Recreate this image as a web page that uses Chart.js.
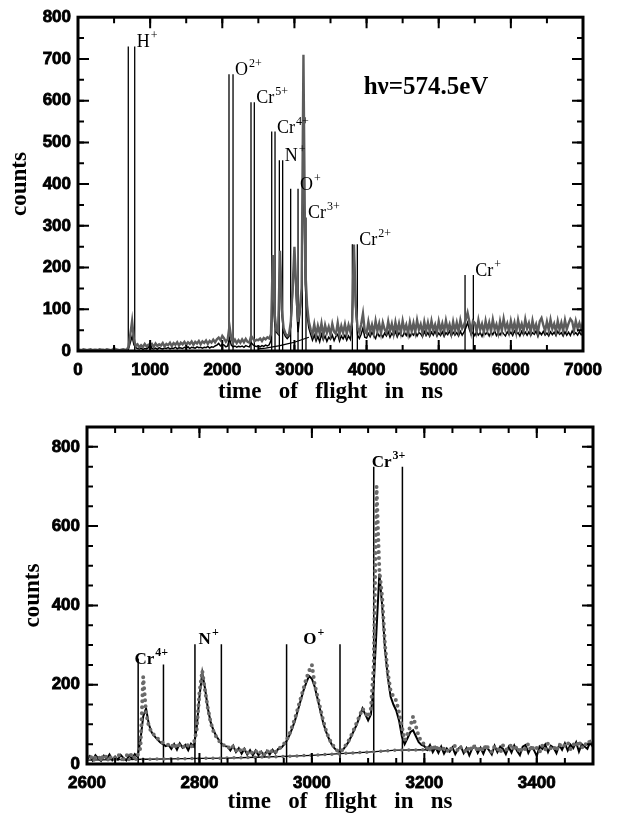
<!DOCTYPE html>
<html>
<head>
<meta charset="utf-8">
<script src="https://cdn.jsdelivr.net/npm/chart.js@4.4.0/dist/chart.umd.min.js"></script>
<style>
  html, body { margin: 0; padding: 0; background: #fff; }
  #wrap { position: relative; width: 620px; height: 816px; }
  canvas { position: absolute; left: 0; }
</style>
</head>
<body>
<div id="wrap">
  <canvas id="tofFull" width="620" height="408" style="top:0"></canvas>
  <canvas id="tofZoom" width="620" height="408" style="top:408px"></canvas>
</div>
<script>
// ---- full spectrum, 0..7000 ns, one sample every 25 ns ----
const fullStep = 25;
const fullGrey = [
  2,3,2,4,3,2,3,4,2,3,
  3,2,4,3,3,2,4,3,2,3,
  3,4,3,2,3,4,3,3,10,40,
  72,28,12,16,9,14,10,17,11,15,
  12,17,10,18,12,16,13,19,11,17,
  14,20,12,19,15,21,13,20,16,22,
  15,21,17,23,15,22,18,24,16,23,
  19,25,17,24,20,27,21,28,32,26,
  36,30,22,28,60,30,20,27,19,26,
  20,28,21,29,22,20,36,30,24,27,
  26,30,24,31,28,33,30,40,230,90,
  50,45,240,100,55,42,36,40,70,150,
  250,150,70,100,150,710,200,110,70,52,
  40,64,38,60,42,66,37,62,44,58,
  39,65,46,41,68,40,60,44,64,42,
  62,46,70,255,110,55,44,64,90,48,
  42,70,46,63,43,72,48,66,42,68,
  52,44,71,48,65,42,69,46,66,44,
  72,49,63,42,69,47,67,45,74,51,
  64,43,70,48,68,46,72,50,63,44,
  71,49,66,46,73,51,64,43,70,48,
  68,47,74,54,62,75,92,70,45,72,
  67,46,74,51,65,45,72,50,68,47,
  75,52,64,44,71,49,77,53,66,46,
  72,51,68,45,74,52,65,47,76,54,
  67,46,73,51,64,44,71,79,62,48,
  70,50,75,53,65,46,72,51,68,48,
  74,52,66,77,71,49,72,54,67,51,
  70
];
const fullBlack = [
  0,1,0,2,1,0,1,0,2,1,
  0,1,2,0,1,1,0,2,1,0,
  10,1,0,2,1,0,1,2,5,20,
  35,15,8,6,5,7,4,6,5,8,
  20,6,5,7,4,8,6,5,7,6,
  8,5,7,6,9,5,8,7,6,9,
  7,10,6,9,8,7,10,8,9,7,
  9,8,11,7,10,9,12,14,18,12,
  16,14,10,12,30,14,10,12,9,11,
  10,12,9,13,11,10,20,15,12,11,
  12,10,13,11,14,12,15,25,140,70,
  45,40,230,90,45,35,30,35,60,140,
  225,130,45,90,140,480,160,85,55,40,
  26,38,24,35,22,40,27,36,23,33,
  28,38,25,35,40,24,36,29,38,26,
  36,28,60,245,100,38,30,40,55,33,
  31,42,34,45,36,30,44,35,41,33,
  43,36,46,33,42,37,47,34,44,38,
  35,45,37,48,34,43,38,46,36,44,
  41,34,47,37,44,35,45,38,48,36,
  43,37,46,35,44,39,48,36,45,38,
  44,36,47,38,45,55,68,52,39,45,
  37,46,38,44,35,47,40,45,36,46,
  39,48,37,44,38,47,41,36,46,39,
  45,37,48,40,44,36,47,39,45,38,
  46,37,44,40,48,35,45,39,47,38,
  43,36,46,39,45,37,47,40,44,36,
  46,38,45,37,48,40,44,38,46,39,
  44
];
const fullBgTimes = [2500, 2600, 2700, 2800, 2900, 3000, 3100, 3200];
const fullBgCounts = [5, 7, 10, 13, 17, 21, 27, 33];

// time windows of each ion (pairs of gate lines) and their drawn heights
const fullGateTimes   = [697, 786, 2093, 2149, 2398, 2444, 2685, 2731, 2791, 2837, 2948, 3050, 3110, 3160, 3803, 3872, 5365, 5480];
const fullGateHeights = [730, 730, 663, 663, 596, 596, 526, 526, 457, 457, 389, 389, 320, 320, 256, 256, 182, 182];
const fullIons    = ['H', 'O', 'Cr', 'Cr', 'N', 'O', 'Cr', 'Cr', 'Cr'];
const fullCharges = ['+', '2+', '5+', '4+', '+', '+', '3+', '2+', '+'];

// ---- zoom 2600..3500 ns, one sample every 5 ns ----
const zoomStart = 2600;
const zoomStep = 5;
const zoomGrey = [
  18,12,22,15,20,10,24,16,13,21,
  15,24,18,12,23,17,26,14,22,40,
  220,130,95,80,72,65,58,54,50,48,
  42,52,40,50,45,40,49,42,52,85,
  180,235,185,140,105,82,68,58,50,46,
  46,37,44,33,40,30,37,27,34,26,
  33,25,32,24,34,26,35,29,39,42,
  50,60,75,95,115,140,165,190,215,235,
  250,200,170,140,110,85,66,52,42,34,
  30,36,47,58,72,88,105,122,140,130,
  118,140,250,700,490,420,300,230,185,170,
  160,130,95,60,75,95,120,95,70,55,
  50,40,46,35,48,33,44,38,30,42,
  36,47,32,42,38,29,45,35,48,31,
  44,33,49,37,30,45,40,28,47,36,
  38,50,34,45,29,43,37,51,33,46,
  40,30,47,36,52,39,45,33,50,42,
  48,55,38,50,44,58,40,52,47,60,
  50
];
const zoomBlack = [
  12,20,9,22,14,8,21,13,24,10,
  19,11,23,15,9,22,13,25,18,60,
  120,140,100,80,70,62,55,50,45,48,
  38,50,36,52,41,48,35,51,44,90,
  170,230,190,140,105,85,70,60,50,45,
  44,34,46,30,40,26,38,24,35,22,
  34,22,31,20,33,24,36,27,38,40,
  48,58,72,90,110,135,160,185,205,222,
  215,195,165,135,105,82,65,50,40,33,
  30,35,45,55,70,85,100,120,140,125,
  110,125,200,340,480,400,290,220,170,150,
  135,110,70,50,65,80,85,70,55,48,
  45,36,48,30,42,28,44,26,39,31,
  42,25,38,44,27,40,22,39,45,28,
  41,26,43,35,24,46,30,44,38,25,
  43,29,47,33,22,44,48,28,42,35,
  20,44,38,49,30,46,41,27,48,36,
  52,34,49,40,55,31,50,44,38,56,
  42
];
const zoomBgTimes  = [2600, 2650, 2700, 2750, 2800, 2850, 2900, 2950, 3000, 3050, 3100, 3150, 3210];
const zoomBgCounts = [10, 11, 12, 13, 14, 15, 17, 19, 22, 26, 30, 35, 36];

const zoomGateTimes   = [2691, 2736, 2792, 2839, 2955, 3050, 3110, 3161];
const zoomGateHeights = [266, 251, 302, 302, 302, 302, 750, 750];
const zoomIons    = ['Cr', 'N', 'O', 'Cr'];
const zoomCharges = ['4+', '+', '+', '3+'];

// helpers
function sampled(start, step, values) {
  return values.map((v, i) => ({ x: start + i * step, y: v }));
}
function paired(times, values) {
  return values.map((v, i) => ({ x: times[i], y: v }));
}
function gates(times, heights) {
  const pts = [];
  times.forEach((t, i) => {
    pts.push({ x: t, y: 0 }, { x: t, y: heights[i] }, { x: t, y: null });
  });
  return pts;
}
// labelled ticks only on multiples of the major step
function majorTicks(step) {
  return s => {
    const out = [];
    for (let v = Math.ceil(s.min / step) * step; v <= s.max + 1e-6; v += step) out.push({ value: v });
    s.ticks = out;
  };
}

// inward major/minor ticks on all four sides plus the heavy frame
const frameTicks = {
  id: 'frameTicks',
  afterDatasetsDraw(chart, args, opts) {
    const { ctx, chartArea: a, scales: { x, y } } = chart;
    ctx.save();
    ctx.strokeStyle = '#000';
    ctx.lineWidth = 2;
    const along = (scale, step, len, horizontal) => {
      const first = Math.ceil(scale.min / step) * step;
      for (let v = first; v <= scale.max + 1e-6; v += step) {
        const p = scale.getPixelForValue(v);
        ctx.beginPath();
        if (horizontal) {
          if (p <= a.left + 1 || p >= a.right - 1) continue;
          ctx.moveTo(p, a.bottom); ctx.lineTo(p, a.bottom - len);
          ctx.moveTo(p, a.top); ctx.lineTo(p, a.top + len);
        } else {
          if (p <= a.top + 1 || p >= a.bottom - 1) continue;
          ctx.moveTo(a.left, p); ctx.lineTo(a.left + len, p);
          ctx.moveTo(a.right, p); ctx.lineTo(a.right - len, p);
        }
        ctx.stroke();
      }
    };
    along(x, opts.xMinor, 6, true);
    along(x, opts.xMajor, 11, true);
    along(y, opts.yMinor, 6, false);
    along(y, opts.yMajor, 11, false);
    ctx.lineWidth = 3;
    ctx.strokeRect(a.left, a.top, a.width, a.height);
    ctx.restore();
  }
};

// ion names with superscript charges next to their gate lines
const ionLabels = {
  id: 'ionLabels',
  afterDatasetsDraw(chart, args, opts) {
    const { ctx, scales: { x, y } } = chart;
    ctx.save();
    ctx.fillStyle = '#000';
    ctx.textBaseline = 'alphabetic';
    const base = opts.weight + ' ' + opts.size + 'px "Liberation Serif"';
    const sup = opts.weight + ' ' + opts.supSize + 'px "Liberation Serif"';
    opts.names.forEach((name, i) => {
      const t1 = opts.times[2 * i], t2 = opts.times[2 * i + 1];
      const h = opts.heights[2 * i + 1];
      ctx.font = base;
      const w1 = ctx.measureText(name).width;
      ctx.font = sup;
      const w2 = ctx.measureText(opts.charges[i]).width;
      let left;
      if (opts.mode === 'center') {
        left = (x.getPixelForValue(t1) + x.getPixelForValue(t2)) / 2 - (w1 + w2) / 2;
      } else {
        left = x.getPixelForValue(t2) + 2;
      }
      const yb = y.getPixelForValue(h) + opts.drop;
      ctx.font = base;
      ctx.fillText(name, left, yb);
      ctx.font = sup;
      ctx.fillText(opts.charges[i], left + w1 + 1, yb - opts.raise);
    });
    if (opts.note) {
      ctx.font = 'bold 25px "Liberation Serif"';
      ctx.fillText(opts.note.text, x.getPixelForValue(opts.note.x), y.getPixelForValue(opts.note.y));
    }
    ctx.restore();
  }
};

const tickFont = { family: 'Liberation Sans', weight: 'bold', size: 17 };
const titleFont = { family: 'Liberation Serif', weight: 'bold', size: 23 };

function makeChart(id, cfg) {
  return new Chart(document.getElementById(id), {
    type: 'line',
    data: { datasets: cfg.datasets },
    options: {
      responsive: false,
      animation: false,
      devicePixelRatio: 1,
      layout: { padding: { top: cfg.padTop, right: cfg.padRight, left: 0, bottom: 0 } },
      elements: { point: { radius: 0 }, line: { tension: 0 } },
      plugins: {
        legend: { display: false },
        tooltip: { enabled: false },
        frameTicks: cfg.ticks,
        ionLabels: cfg.labels
      },
      scales: {
        x: {
          type: 'linear',
          min: cfg.xMin, max: cfg.xMax,
          afterFit: s => { s.height = cfg.xHeight; },
          afterBuildTicks: majorTicks(cfg.ticks.xMajor),
          grid: { display: false, drawTicks: false },
          border: { display: false },
          ticks: { font: tickFont, color: '#000', padding: 9, maxRotation: 0,
                   autoSkip: false, textStrokeColor: '#000', textStrokeWidth: 0.8, callback: v => String(v) },
          title: { display: true, text: 'time   of   flight   in   ns', font: titleFont, color: '#000', padding: { top: 0, bottom: cfg.xTitlePad } }
        },
        y: {
          min: 0, max: cfg.yMax,
          afterFit: s => { s.width = cfg.yWidth; },
          afterBuildTicks: majorTicks(cfg.ticks.yMajor),
          grid: { display: false, drawTicks: false },
          border: { display: false },
          ticks: { font: tickFont, color: '#000', padding: 7,
                   autoSkip: false, textStrokeColor: '#000', textStrokeWidth: 0.8, callback: v => String(v) },
          title: { display: true, text: 'counts', font: titleFont, color: '#000', padding: { top: cfg.yTitlePad, bottom: 0 } }
        }
      }
    },
    plugins: [frameTicks, ionLabels]
  });
}

makeChart('tofFull', {
  xMin: 0, xMax: 7000, yMax: 800,
  padTop: 14, padRight: 37, xHeight: 57, yWidth: 78, xTitlePad: 2, yTitlePad: 6,
  ticks: { xMajor: 1000, xMinor: 500, yMajor: 100, yMinor: 50 },
  labels: {
    names: fullIons, charges: fullCharges, times: fullGateTimes, heights: fullGateHeights,
    mode: 'after', weight: 'normal', size: 18, supSize: 12, raise: 8, drop: 1,
    note: { text: 'h\u03bd=574.5eV', x: 3960, y: 615 }
  },
  datasets: [
    { data: sampled(0, fullStep, fullGrey), borderColor: '#5c5c5c', borderWidth: 2.4, order: 0 },
    { data: sampled(0, fullStep, fullBlack), borderColor: '#000', borderWidth: 1.5, order: 1 },
    { data: paired(fullBgTimes, fullBgCounts), borderColor: '#000', borderWidth: 1.2, order: 2 },
    { data: gates(fullGateTimes, fullGateHeights), borderColor: '#000', borderWidth: 1.3, spanGaps: false, order: 3 }
  ]
});

makeChart('tofZoom', {
  xMin: 2600, xMax: 3500, yMax: 850,
  padTop: 19, padRight: 27, xHeight: 52, yWidth: 87, xTitlePad: 0, yTitlePad: 19,
  ticks: { xMajor: 200, xMinor: 50, yMajor: 200, yMinor: 50 },
  labels: {
    names: zoomIons, charges: zoomCharges, times: zoomGateTimes, heights: zoomGateHeights,
    mode: 'center', weight: 'bold', size: 17, supSize: 12, raise: 8, drop: 0
  },
  datasets: [
    { data: sampled(zoomStart, zoomStep, zoomGrey), borderColor: '#6a6a6a', borderWidth: 4,
      borderDash: [0, 6], borderCapStyle: 'round', order: 0 },
    { data: paired(zoomBgTimes, zoomBgCounts), borderColor: '#6a6a6a', borderWidth: 3.5,
      borderDash: [0, 7], borderCapStyle: 'round', order: 1 },
    { data: sampled(zoomStart, zoomStep, zoomBlack), borderColor: '#000', borderWidth: 2, order: 2 },
    { data: paired(zoomBgTimes, zoomBgCounts), borderColor: '#000', borderWidth: 1.3, order: 3 },
    { data: gates(zoomGateTimes, zoomGateHeights), borderColor: '#000', borderWidth: 1.5, spanGaps: false, order: 4 }
  ]
});
</script>
</body>
</html>
